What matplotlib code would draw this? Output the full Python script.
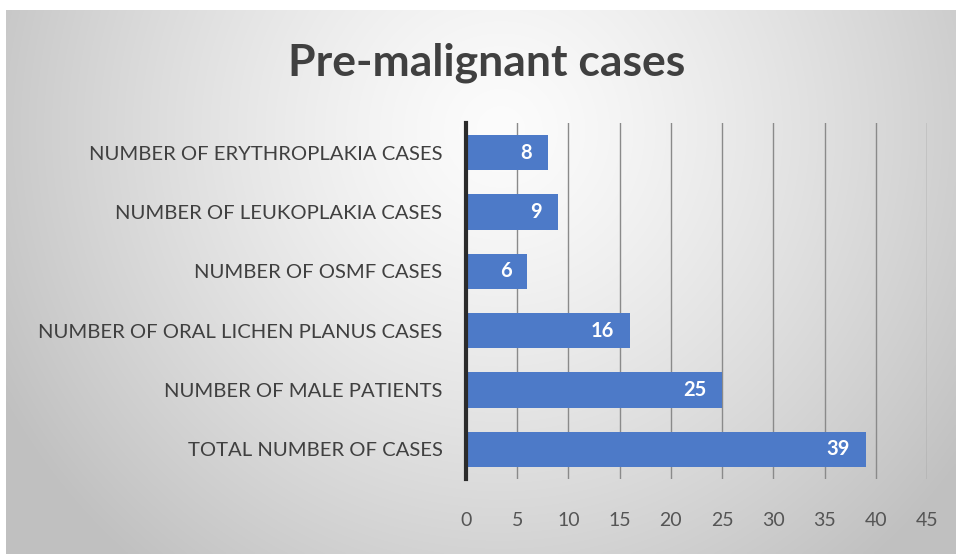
import numpy as np
import matplotlib
matplotlib.use("Agg")
import matplotlib.pyplot as plt

categories = ["TOTAL NUMBER OF CASES", "NUMBER OF MALE PATIENTS",
              "NUMBER OF ORAL LICHEN PLANUS CASES", "NUMBER OF OSMF CASES",
              "NUMBER OF LEUKOPLAKIA CASES", "NUMBER OF ERYTHROPLAKIA CASES"]
values = [39, 25, 16, 6, 9, 8]
xticks = [0, 5, 10, 15, 20, 25, 30, 35, 40, 45]
title = "Pre-malignant cases"

W, H = 956, 554
fig = plt.figure(figsize=(W / 100, H / 100), dpi=100)
fig.patch.set_facecolor("white")

# background radial gradient panel
bg = fig.add_axes([6 / W, 0, (W - 6) / W, (H - 10) / H])
bg.set_axis_off()
ny, nx = 272, 475
yy, xx = np.mgrid[0:ny, 0:nx]
cx, cy = nx * 0.52, ny * 0.22
d = np.sqrt(((xx - cx) / (nx * 0.60)) ** 2 + ((yy - cy) / (ny * 1.05)) ** 2)
d = np.clip(d, 0, 1)
g = (252 - 60 * d ** 1.3) / 255.0
img = np.dstack([g, g, g])
bg.imshow(img, aspect="auto", extent=[0, 1, 0, 1], interpolation="bilinear")
bg.set_xlim(0, 1)
bg.set_ylim(0, 1)

ax = fig.add_axes([466 / W, 1 - 479 / H, (927 - 466) / W, (479 - 123) / H])
ax.patch.set_alpha(0)
y = np.arange(len(categories))
ax.barh(y, values, height=0.59, color="#4d7ac8", zorder=3)
ax.set_xlim(0, 45)
ax.set_ylim(-0.5, len(categories) - 0.5)
ax.set_xticks(xticks)
ax.set_xticklabels([str(t) for t in xticks], fontfamily="Lato", fontsize=14, color="#555555")
ax.set_yticks(y)
ax.set_yticklabels(categories, fontfamily="Lato", fontsize=14.6, color="#404040")
ax.tick_params(axis="x", length=0, pad=24)
ax.tick_params(axis="y", length=0, pad=17)
ax.grid(axis="x", color="#8a8a8a", linewidth=1.0, zorder=1)
for s in ["top", "right", "bottom"]:
    ax.spines[s].set_visible(False)
ax.spines["left"].set_color("#2b2b2b")
ax.spines["left"].set_linewidth(3)
ax.spines["left"].set_zorder(4)

for yi, v in zip(y, values):
    ax.annotate(str(v), xy=(v, yi), xytext=(-11.5, 0), textcoords="offset points",
                ha="right", va="center", color="white", fontweight="bold",
                fontfamily="Lato", fontsize=14.5, zorder=5)

fig.text(487 / W, 1 - 63 / H, title, ha="center", va="center",
         fontfamily="Lato", fontweight="bold", fontsize=32, color="#404040")

fig.savefig("out.png", dpi=100)
